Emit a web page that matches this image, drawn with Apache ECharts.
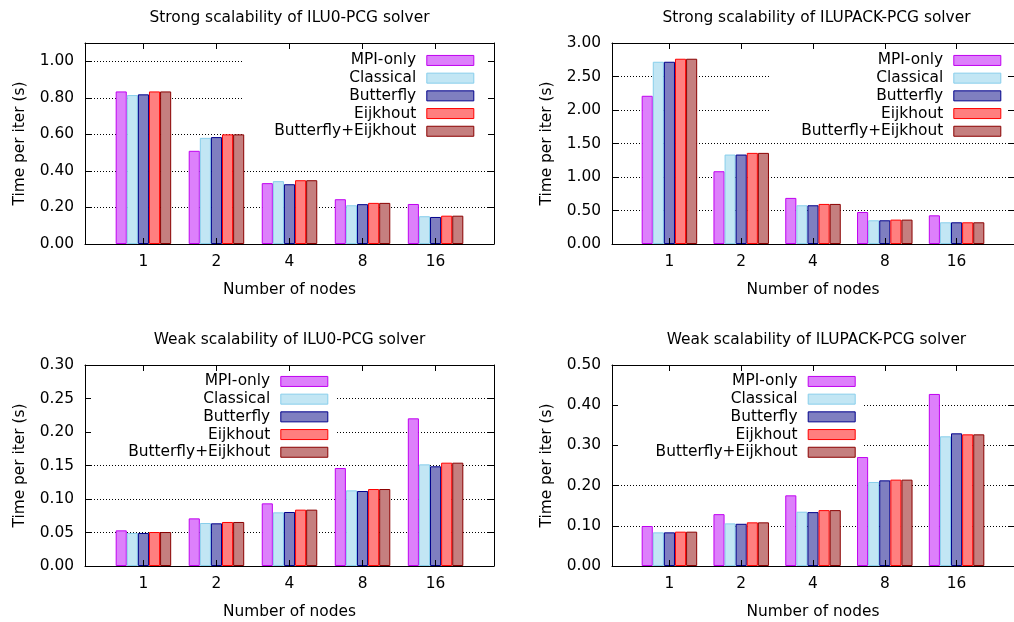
<!DOCTYPE html>
<html>
<head>
<meta charset="utf-8">
<script src="https://cdn.jsdelivr.net/npm/echarts@6/dist/echarts.min.js"></script>
<style>html,body{margin:0;padding:0;background:#fff}#c{width:1014px;height:622px}</style>
</head>
<body>
<div id="c"></div>
<script>
// ---- data ----
const nodes = ['1', '2', '4', '8', '16'];
const seriesNames = ['MPI-only', 'Classical', 'Butterfly', 'Eijkhout', 'Butterfly+Eijkhout'];

const strongIlu0Mpi       = [0.835, 0.510, 0.333, 0.245, 0.219];
const strongIlu0Classical = [0.815, 0.581, 0.344, 0.212, 0.152];
const strongIlu0Butterfly = [0.819, 0.585, 0.327, 0.218, 0.148];
const strongIlu0Eijkhout  = [0.835, 0.600, 0.349, 0.225, 0.155];
const strongIlu0ButEij    = [0.835, 0.600, 0.349, 0.225, 0.155];

const strongIlupackMpi       = [2.212, 1.086, 0.688, 0.478, 0.428];
const strongIlupackClassical = [2.720, 1.335, 0.578, 0.354, 0.324];
const strongIlupackButterfly = [2.720, 1.335, 0.578, 0.354, 0.324];
const strongIlupackEijkhout  = [2.765, 1.360, 0.598, 0.364, 0.324];
const strongIlupackButEij    = [2.765, 1.360, 0.598, 0.364, 0.324];

const weakIlu0Mpi       = [0.0532, 0.0711, 0.0935, 0.1463, 0.2204];
const weakIlu0Classical = [0.0493, 0.0642, 0.0801, 0.1129, 0.1517];
const weakIlu0Butterfly = [0.0493, 0.0637, 0.0806, 0.1119, 0.1488];
const weakIlu0Eijkhout  = [0.0507, 0.0657, 0.0841, 0.1149, 0.1542];
const weakIlu0ButEij    = [0.0507, 0.0657, 0.0841, 0.1149, 0.1542];

const weakIlupackMpi       = [0.0995, 0.129, 0.1758, 0.271, 0.428];
const weakIlupackClassical = [0.0837, 0.106, 0.135, 0.209, 0.3226];
const weakIlupackButterfly = [0.0837, 0.105, 0.134, 0.213, 0.330];
const weakIlupackEijkhout  = [0.0854, 0.1086, 0.139, 0.2148, 0.3275];
const weakIlupackButEij    = [0.0854, 0.1086, 0.139, 0.2148, 0.3275];

const titles = [
  'Strong scalability of ILU0-PCG solver',
  'Strong scalability of ILUPACK-PCG solver',
  'Weak scalability of ILU0-PCG solver',
  'Weak scalability of ILUPACK-PCG solver'
];
const yMax = [1.1, 3.0, 0.30, 0.50];
const yInterval = [0.2, 0.5, 0.05, 0.1];
const panelValues = [
  [strongIlu0Mpi, strongIlu0Classical, strongIlu0Butterfly, strongIlu0Eijkhout, strongIlu0ButEij],
  [strongIlupackMpi, strongIlupackClassical, strongIlupackButterfly, strongIlupackEijkhout, strongIlupackButEij],
  [weakIlu0Mpi, weakIlu0Classical, weakIlu0Butterfly, weakIlu0Eijkhout, weakIlu0ButEij],
  [weakIlupackMpi, weakIlupackClassical, weakIlupackButterfly, weakIlupackEijkhout, weakIlupackButEij]
];

// ---- styles / layout ----
const fills   = ['#dd80fb', '#c2e6f4', '#7f7fc0', '#ff7f7f', '#c57f7f'];
const borders = ['#c000f0', '#87ceeb', '#00008b', '#ff0000', '#8b0000'];
const FONT = 'DejaVu Sans';
const FS = 15.4;
const grids = [
  {left: 85,  top: 43,  width: 409, height: 201},
  {left: 612, top: 43,  width: 409, height: 201},
  {left: 85,  top: 365, width: 409, height: 201},
  {left: 612, top: 365, width: 409, height: 201}
];
const legendPos = [
  {right: 539.7, top: 51.6},
  {right: 12.7,  top: 51.6},
  {right: 685.7, top: 372.6},
  {right: 158.3, top: 372.6}
];
const keyBoxes = [
  {x: 242, y: 46,  w: 251, h: 94},
  {x: 769, y: 46,  w: 252, h: 94},
  {x: 86,  y: 368, w: 251, h: 92},
  {x: 613, y: 368, w: 250, h: 92}
];
const tickIdx = nodes.map((_, i) => i);

const option = {
  animation: false,
  backgroundColor: '#fff',
  textStyle: {fontFamily: FONT},
  title: [], grid: [], xAxis: [], yAxis: [], legend: [], series: [],
  graphic: {elements: []}
};

for (let p = 0; p < 4; p++) {
  const g = grids[p];
  option.grid.push({left: g.left, top: g.top, width: g.width, height: g.height, containLabel: false});
  option.title.push({
    text: titles[p], left: g.left + g.width / 2, top: g.top - 32.5, textAlign: 'center', padding: 0,
    textStyle: {fontSize: FS, fontWeight: 'normal', color: '#000', fontFamily: FONT}
  });
  const xBase = {
    gridIndex: p, type: 'value', min: -0.8, max: 4.8, z: 3,
    splitLine: {show: false},
    axisLine: {show: true, onZero: false, lineStyle: {color: '#000', width: 1}},
    axisTick: {show: true, inside: true, length: 6, customValues: tickIdx, lineStyle: {color: '#000'}}
  };
  option.xAxis.push(Object.assign({}, xBase, {
    position: 'bottom',
    axisLabel: {show: true, customValues: tickIdx, formatter: v => nodes[Math.round(v)], fontSize: FS, color: '#000', margin: 10, fontFamily: FONT},
    name: 'Number of nodes', nameLocation: 'middle', nameGap: 38.5,
    nameTextStyle: {fontSize: FS, color: '#000', fontFamily: FONT}
  }));
  option.xAxis.push(Object.assign({}, xBase, {position: 'top', axisLabel: {show: false}}));

  const iv = yInterval[p];
  const yBase = {gridIndex: p, type: 'value', min: 0, max: yMax[p], interval: iv};
  const fmt = v => (Math.abs(v / iv - Math.round(v / iv)) < 1e-6 ? v.toFixed(2) : '');
  // gridlines (below key box)
  option.yAxis.push(Object.assign({}, yBase, {
    position: 'left', z: 0,
    axisLine: {show: false}, axisTick: {show: false}, axisLabel: {show: false},
    splitLine: {show: true, lineStyle: {color: '#000', width: 1, type: [1, 2]}}
  }));
  // left axis with labels/ticks
  option.yAxis.push(Object.assign({}, yBase, {
    position: 'left', z: 3,
    splitLine: {show: false},
    axisLine: {show: true, onZero: false, lineStyle: {color: '#000', width: 1}},
    axisTick: {show: true, inside: true, length: 6, lineStyle: {color: '#000'}},
    axisLabel: {show: true, formatter: fmt, fontSize: FS, color: '#000', margin: 11, fontFamily: FONT},
    name: 'Time per iter (s)', nameLocation: 'middle', nameGap: 58,
    nameTextStyle: {fontSize: FS, color: '#000', fontFamily: FONT}
  }));
  // right mirror
  option.yAxis.push(Object.assign({}, yBase, {
    position: 'right', z: 3,
    splitLine: {show: false},
    axisLine: {show: true, onZero: false, lineStyle: {color: '#000', width: 1}},
    axisTick: {show: true, inside: true, length: 6, lineStyle: {color: '#000'}},
    axisLabel: {show: false}
  }));

  option.legend.push({
    orient: 'vertical', align: 'right', right: legendPos[p].right, top: legendPos[p].top,
    padding: 0, itemWidth: 47, itemHeight: 10, itemGap: 0, icon: 'rect', selectedMode: false,
    itemStyle: {borderWidth: 1},
    textStyle: {fontSize: FS, color: '#000', lineHeight: 17.7, padding: [0, 5.6, 0, 0], fontFamily: FONT},
    data: seriesNames.slice()
  });

  const kb = keyBoxes[p];
  option.graphic.elements.push({
    type: 'rect', z: 1, silent: true,
    shape: {x: kb.x, y: kb.y, width: kb.w, height: kb.h},
    style: {fill: '#fff'}
  });

  for (let s = 0; s < 5; s++) {
    option.series.push({
      type: 'bar', name: seriesNames[s],
      xAxisIndex: 2 * p, yAxisIndex: 3 * p,
      barWidth: 11.1, barGap: '0%', z: 2,
      itemStyle: {color: fills[s], borderColor: borders[s], borderWidth: 1},
      emphasis: {disabled: true},
      data: panelValues[p][s].map((v, i) => [i, v])
    });
  }
}

const chart = echarts.init(document.getElementById('c'), null, {renderer: 'canvas'});
chart.setOption(option);
</script>
</body>
</html>
